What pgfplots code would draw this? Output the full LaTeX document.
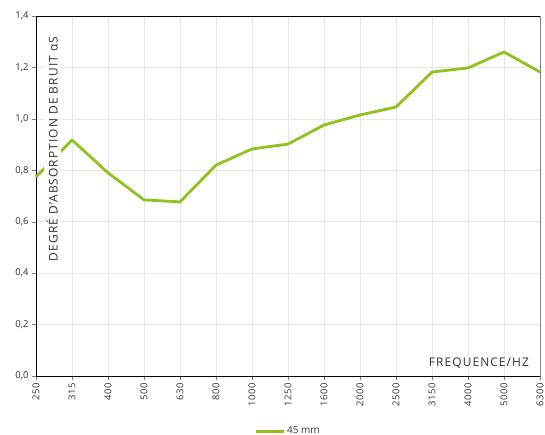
\documentclass[border=0pt]{standalone}
\usepackage{fontspec}
\setmainfont{Open Sans}
\usepackage{pgfplots}
\pgfplotsset{compat=1.18}
\definecolor{lgreen}{HTML}{8DC21F}
\definecolor{txt}{HTML}{333333}
\definecolor{grd}{HTML}{E6E6E6}
\begin{document}
\begin{tikzpicture}
\begin{axis}[
  name=ax,
  scale only axis,
  width=504bp, height=360bp,
  xmin=0, xmax=14, ymin=0, ymax=1.4,
  xtick={0,...,14},
  xticklabels={{250},{315},{400},{500},{630},{800},{1000},{1250},{1600},{2000},{2500},{3150},{4000},{5000},{6300}},
  ytick={0,0.2,0.4,0.6,0.8,1.0,1.2,1.4},
  /pgf/number format/fixed,
  /pgf/number format/fixed zerofill,
  /pgf/number format/precision=1,
  /pgf/number format/use comma,
  /pgf/number format/assume math mode=true,
  x tick label style={rotate=90, anchor=east, font=\fontsize{9.5}{11}\selectfont\addfontfeatures{LetterSpace=5}, color=txt},
  y tick label style={font=\fontsize{9.5}{11}\selectfont, color=txt},
  axis lines=left,
  axis line style={-, black, line width=0.8pt},
  tick align=outside,
  major tick length=4bp,
  tick style={gray, line width=0.4pt},
  grid=major,
  grid style={grd, line width=0.6pt},
  clip=false,
  legend style={at={(0.5,-0.153)}, anchor=center, draw=none, fill=none, font=\fontsize{10}{11}\selectfont, text=txt, legend cell align=left},
  legend image code/.code={\draw[line width=3bp, color=lgreen] (0bp,0bp) -- (28bp,0bp);},
]
\draw[black, line width=0.8pt] (rel axis cs:0,1) -- (rel axis cs:1,1);
\draw[gray, line width=0.6pt] (rel axis cs:1,0) -- (rel axis cs:1,1);
\addplot[lgreen, line width=2.8bp, line join=round] coordinates {
(0,0.774) (1,0.918) (2,0.79) (3,0.685) (4,0.677) (5,0.82) (6,0.883) (7,0.902)
(8,0.976) (9,1.015) (10,1.046) (11,1.182) (12,1.198) (13,1.26) (14,1.182)
};
\addlegendentry{45 mm}
\node[rotate=90, anchor=west, fill=white, inner sep=3bp, text=txt, font=\fontsize{12}{14}\selectfont\addfontfeatures{LetterSpace=9}] at (rel axis cs:0.032,0.31) {DEGRÉ D’ABSORPTION DE BRUIT αS};
\node[anchor=east, text=txt, font=\fontsize{12}{14}\selectfont\addfontfeatures{LetterSpace=9}] at (rel axis cs:0.985,0.036) {FREQUENCE/HZ};
\end{axis}
\pgfresetboundingbox
\path ([shift={(-36bp,-59bp)}]ax.south west) rectangle ([shift={(5bp,16bp)}]ax.north east);
\end{tikzpicture}
\end{document}
